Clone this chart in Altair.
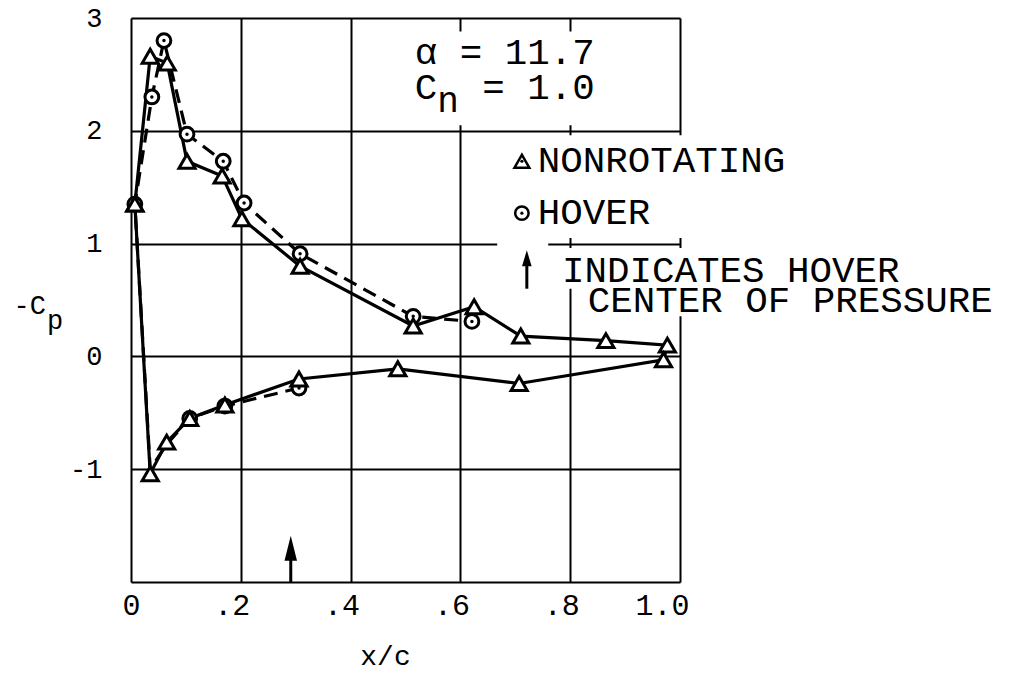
import altair as alt
import pandas as pd

# ---------------- data ----------------
# NONROTATING: path around the section (upper surface LE->TE, lower TE->LE, back to stagnation)
nr_x = [0.007, 0.035, 0.066, 0.102, 0.166, 0.202, 0.308, 0.514, 0.625, 0.710, 0.865, 0.977,
        0.970, 0.707, 0.486, 0.306, 0.171, 0.107, 0.065, 0.035, 0.007]
nr_y = [1.35, 2.66, 2.60, 1.73, 1.60, 1.22, 0.80, 0.27, 0.44, 0.18, 0.14, 0.10,
        -0.03, -0.24, -0.11, -0.20, -0.43, -0.55, -0.76, -1.04, 1.35]

# HOVER: lower surface -> stagnation -> upper surface (dashed line)
hv_x = [0.306, 0.171, 0.107, 0.065, 0.035, 0.007, 0.038, 0.060, 0.102, 0.168, 0.206, 0.308, 0.514, 0.621]
hv_y = [-0.28, -0.44, -0.55, -0.78, -1.00, 1.35, 2.30, 2.80, 1.97, 1.73, 1.36, 0.91, 0.355, 0.31]
hv_marker = [True, True, True, False, False, True, True, True, True, True, True, True, True, True]

# hover centre of pressure
cp_x = [0.291]

x_ticks = [0, 0.2, 0.4, 0.6, 0.8, 1.0]
y_ticks = [-2, -1, 0, 1, 2, 3]

# annotation texts (data coordinates); non-breaking spaces keep the typewriter spacing
NB = "\u00a0"
ann_text = ["\u03b1" + NB + "=" + NB + "11.7", "C" + NB * 2 + "=" + NB + "1.0", "NONROTATING", "HOVER",
            "INDICATES" + NB + "HOVER", "CENTER" + NB + "OF" + NB + "PRESSURE"]
ann_x = [0.517, 0.517, 0.741, 0.741, 0.785, 0.832]
ann_y = [2.69, 2.38, 1.73, 1.27, 0.76, 0.49]

# white backgrounds behind the annotation texts (they interrupt the grid)
mask_x1 = [0.49, 0.68, 0.667, 0.772, 0.827]
mask_x2 = [0.96, 1.24, 0.76, 1.58, 1.58]
mask_y1 = [2.05, 1.05, 0.56, 0.60, 0.355]
mask_y2 = [2.88, 1.96, 1.06, 0.96, 0.60]

FONT = "Liberation Mono"
XS = alt.Scale(domain=[0, 1], nice=False, zero=False)
YS = alt.Scale(domain=[-2, 3], nice=False, zero=False)


def X(f, **kw):
    return alt.X(f, type="quantitative", scale=XS, **kw)


def Y(f, **kw):
    return alt.Y(f, type="quantitative", scale=YS, **kw)


nr_df = pd.DataFrame({"x": nr_x, "y": nr_y, "o": list(range(len(nr_x)))})
hv_df = pd.DataFrame({"x": hv_x, "y": hv_y, "o": list(range(len(hv_x))), "m": hv_marker})
hv_pts = hv_df[hv_df["m"]]
ann_df = pd.DataFrame({"t": ann_text, "x": ann_x, "y": ann_y})
mask_df = pd.DataFrame({"x1": mask_x1, "x2": mask_x2, "y1": mask_y1, "y2": mask_y2})

x_axis = alt.Axis(
    values=x_ticks,
    labelExpr="datum.value == 0 ? '0' : (datum.value > 0.99 ? '1.0' : '.' + format(datum.value * 10, '.0f'))",
    title="x/c", titleX=254, titleY=74, titleAlign="center", titleBaseline="middle",
    titleFont=FONT, titleFontSize=28, titleFontWeight="normal", titleColor="black",
    labelFont=FONT, labelFontSize=30, labelColor="black", labelAlign="right", labelOffset=9,
    labelPadding=8, labelBaseline="top",
    grid=True, gridColor="black", gridWidth=2, gridOpacity=1,
    domain=False, ticks=False,
)
y_axis = alt.Axis(
    values=y_ticks,
    labelExpr="datum.value == -2 ? '' : (datum.value < 0 ? '-' + format(-datum.value, 'd') : format(datum.value, 'd'))",
    title=None,
    labelFont=FONT, labelFontSize=27, labelColor="black", labelPadding=29,
    grid=True, gridColor="black", gridWidth=2, gridOpacity=1,
    domain=False, ticks=False,
)

base_axes = alt.Chart(mask_df).mark_rect(color="white", opacity=1).encode(
    x=X("x1", axis=x_axis), x2="x2", y=Y("y1", axis=y_axis), y2="y2"
)

nr_line = alt.Chart(nr_df).mark_line(color="black", strokeWidth=3.2).encode(
    x=X("x"), y=Y("y"), order="o:Q"
)
hv_line = alt.Chart(hv_df).mark_line(color="black", strokeWidth=3.2, strokeDash=[14, 8]).encode(
    x=X("x"), y=Y("y"), order="o:Q"
)
hv_circ = alt.Chart(hv_pts).mark_point(shape="circle", size=190, fill="white", fillOpacity=1,
                                        stroke="black", strokeWidth=3, opacity=1).encode(x=X("x"), y=Y("y"))
hv_dot = alt.Chart(hv_pts).mark_point(shape="circle", size=12, filled=True, color="black", opacity=1).encode(
    x=X("x"), y=Y("y"))
nr_tri = alt.Chart(nr_df).mark_point(shape="triangle-up", size=260, fill="white", fillOpacity=1,
                                      stroke="black", strokeWidth=3, opacity=1).encode(x=X("x"), y=Y("y"))

# centre of pressure arrow
cp_df = pd.DataFrame({"x": cp_x, "y0": [-2.0], "y1": [-1.72], "yh": [-1.70]})
cp_shaft = alt.Chart(cp_df).mark_rule(color="black", strokeWidth=3).encode(x=X("x"), y=Y("y0"), y2="y1")
cp_head = alt.Chart(cp_df).mark_point(shape="M0,-1L0.5,1L-0.5,1Z", size=625, filled=True,
                                       color="black", opacity=1).encode(x=X("x"), y=Y("yh"))

# legend symbols
leg_df = pd.DataFrame({"x": [0.712], "yt": [1.73], "yc": [1.27], "ya": [0.87], "ys0": [0.60], "ys1": [0.86], "xa": [0.721]})
leg_tri = alt.Chart(leg_df).mark_point(shape="triangle-up", size=220, fill="white", fillOpacity=1,
                                        stroke="black", strokeWidth=2.5, opacity=1).encode(x=X("x"), y=Y("yt"))
leg_tri_dot = alt.Chart(leg_df).mark_point(shape="circle", size=10, filled=True, color="black", opacity=1).encode(
    x=X("x"), y=Y("yt"))
leg_circ = alt.Chart(leg_df).mark_point(shape="circle", size=180, fill="white", fillOpacity=1,
                                         stroke="black", strokeWidth=2.5, opacity=1).encode(x=X("x"), y=Y("yc"))
leg_circ_dot = alt.Chart(leg_df).mark_point(shape="circle", size=10, filled=True, color="black", opacity=1).encode(
    x=X("x"), y=Y("yc"))
leg_shaft = alt.Chart(leg_df).mark_rule(color="black", strokeWidth=3).encode(x=X("xa"), y=Y("ys0"), y2="ys1")
leg_head = alt.Chart(leg_df).mark_point(shape="M0,-1L0.6,1L-0.6,1Z", size=256, filled=True,
                                         color="black", opacity=1).encode(x=X("xa"), y=Y("ya"))

ann = alt.Chart(ann_df).mark_text(font=FONT, fontSize=37.5, align="left", baseline="middle", color="black").encode(
    x=X("x"), y=Y("y"), text="t:N")

# subscripts / y title
sub_n_df = pd.DataFrame({"t": ["n"], "x": [0.558], "y": [2.26]})
ytitle_df = pd.DataFrame({"t": ["-C"], "x": [-0.155], "y": [0.45]})
ysub_df = pd.DataFrame({"t": ["p"], "x": [-0.153], "y": [0.31]})
sub_n = alt.Chart(sub_n_df).mark_text(font=FONT, fontSize=36, align="left", baseline="middle",
                                      color="black").encode(x=X("x"), y=Y("y"), text="t:N")
ytitle = alt.Chart(ytitle_df).mark_text(font=FONT, fontSize=27, align="right", baseline="middle",
                                        color="black").encode(x=X("x"), y=Y("y"), text="t:N")
ysub = alt.Chart(ysub_df).mark_text(font=FONT, fontSize=27, align="left", baseline="middle",
                                    color="black").encode(x=X("x"), y=Y("y"), text="t:N")

chart = alt.layer(
    base_axes, hv_line, nr_line, hv_circ, hv_dot, nr_tri, cp_shaft, cp_head,
    leg_tri, leg_tri_dot, leg_circ, leg_circ_dot, leg_shaft, leg_head, ann, sub_n, ytitle, ysub
).properties(
    width=549, height=564,
    autosize=alt.AutoSizeParams(type="none"),
    padding={"left": 123, "top": 10, "right": 320, "bottom": 88},
).configure_view(stroke="black", strokeWidth=2).configure(background="white")

chart.save("out.html", embed_options={"renderer": "svg", "actions": False})
